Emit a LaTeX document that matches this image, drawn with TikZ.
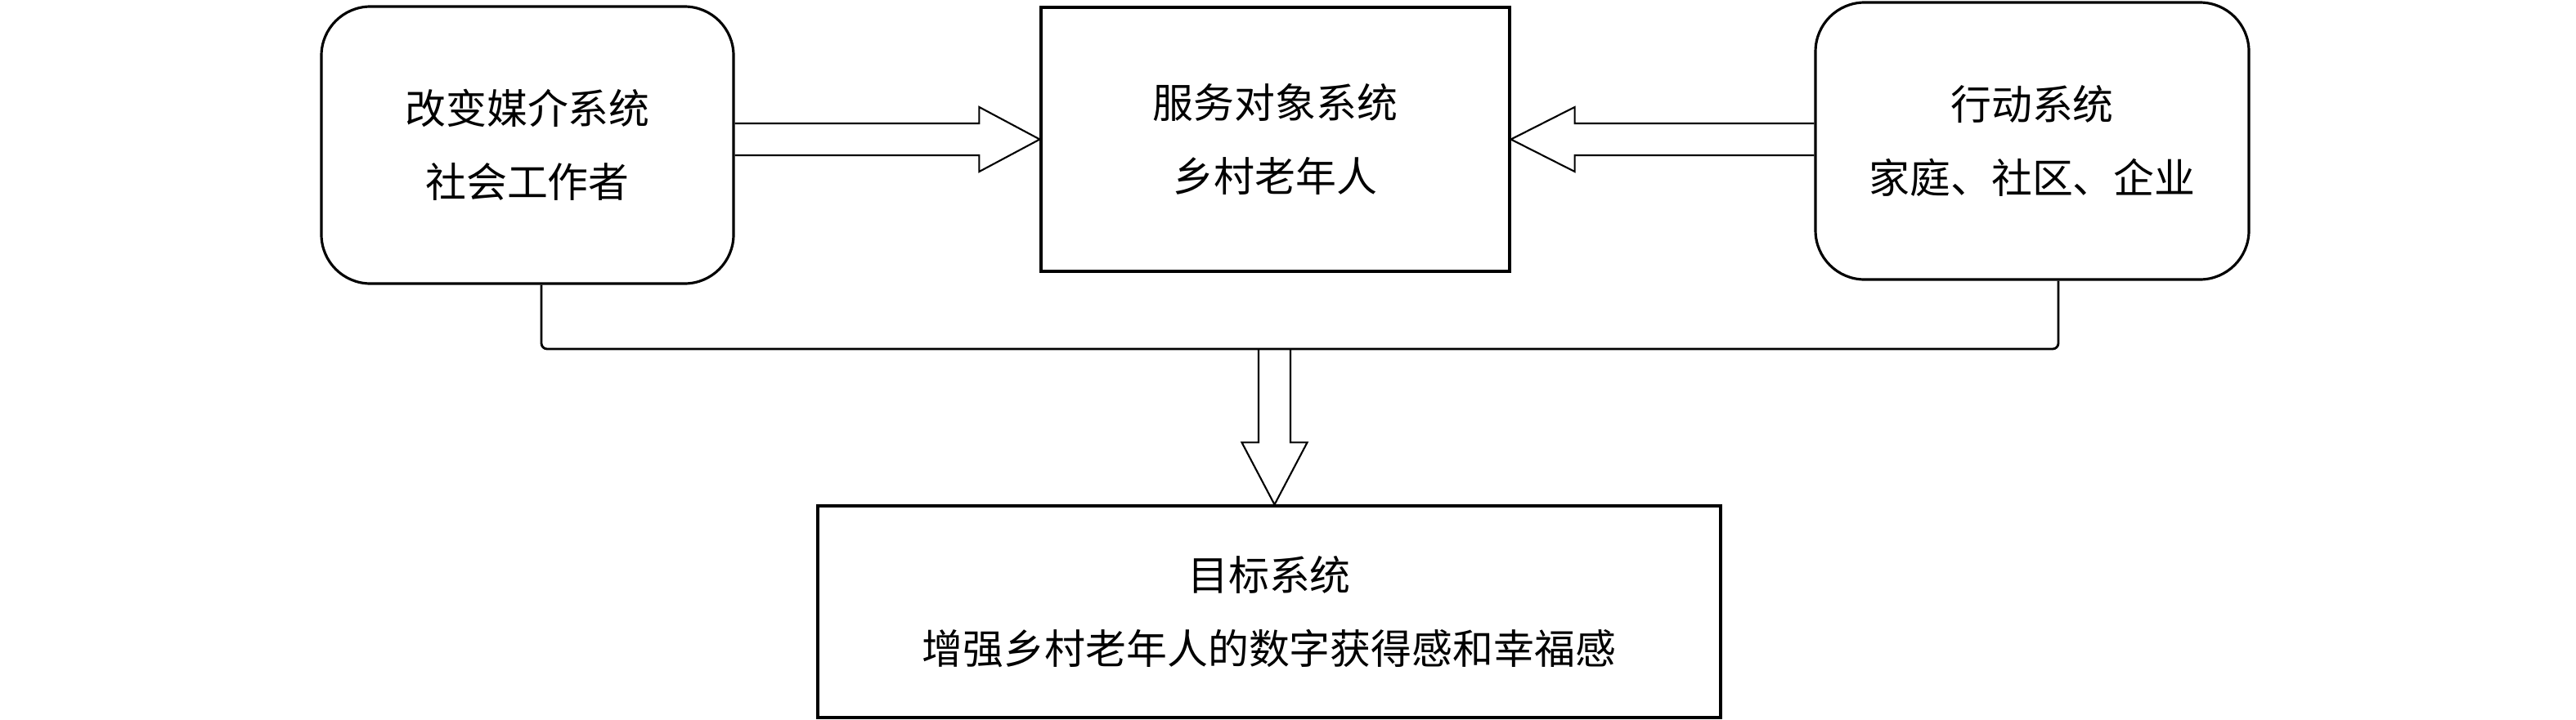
\documentclass[tikz,border=0pt]{standalone}
\usepackage{fontspec}
\newfontfamily\cjk{Noto Sans CJK SC}
\usetikzlibrary{calc}

\begin{document}
\begin{tikzpicture}
  \tikzset{
    sysbox/.style={draw,line width=0.9pt,inner sep=0pt,align=center,
      font=\cjk\fontsize{14.2pt}{25.6pt}\selectfont},
    roundbox/.style={sysbox,rounded corners=0.6cm},
    fat/.style={draw,line width=0.6pt,line join=miter},
    bus/.style={draw,line width=0.8pt,rounded corners=2pt}
  }
  \useasboundingbox (0,0) rectangle (31.5,-8.8);

  \node[roundbox,minimum width=5.04cm,minimum height=3.39cm] (change) at (6.45,-1.775)
    {改变媒介系统\\社会工作者};
  \node[sysbox,minimum width=5.73cm,minimum height=3.23cm] (client) at (15.595,-1.705)
    {服务对象系统\\乡村老年人};
  \node[roundbox,minimum width=5.3cm,minimum height=3.39cm] (action) at (24.85,-1.725)
    {行动系统\\家庭、社区、企业};
  \node[sysbox,minimum width=11.04cm,minimum height=2.59cm] (target) at (15.52,-7.485)
    {目标系统\\增强乡村老年人的数字获得感和幸福感};

  % hollow arrows into the client system
  \draw[fat] ($(change.east |- client.west)+(0,0.195)$) -- ($(client.west)+(-0.74,0.195)$)
    -- ($(client.west)+(-0.74,0.395)$) -- (client.west) -- ($(client.west)+(-0.74,-0.395)$)
    -- ($(client.west)+(-0.74,-0.195)$) -- ($(change.east |- client.west)+(0,-0.195)$);
  \draw[fat] ($(action.west |- client.east)+(0,0.195)$) -- ($(client.east)+(0.78,0.195)$)
    -- ($(client.east)+(0.78,0.395)$) -- (client.east) -- ($(client.east)+(0.78,-0.395)$)
    -- ($(client.east)+(0.78,-0.195)$) -- ($(action.west |- client.east)+(0,-0.195)$);

  % joining line under the two outer systems
  \coordinate (lfoot) at (6.62,-4.27);
  \coordinate (rfoot) at (25.17,-4.27);
  \draw[bus] (change.south -| lfoot) -- (lfoot) -- (rfoot) -- (action.south -| rfoot);

  % hollow arrow down to the target system
  \coordinate (drop) at (15.585,-4.27);
  \coordinate (tip) at (drop |- target.north);
  \draw[fat] ($(drop)+(-0.195,0)$) -- ($(tip)+(-0.195,0.76)$) -- ($(tip)+(-0.4,0.76)$)
    -- (tip) -- ($(tip)+(0.4,0.76)$) -- ($(tip)+(0.195,0.76)$) -- ($(drop)+(0.195,0)$);
\end{tikzpicture}
\end{document}
